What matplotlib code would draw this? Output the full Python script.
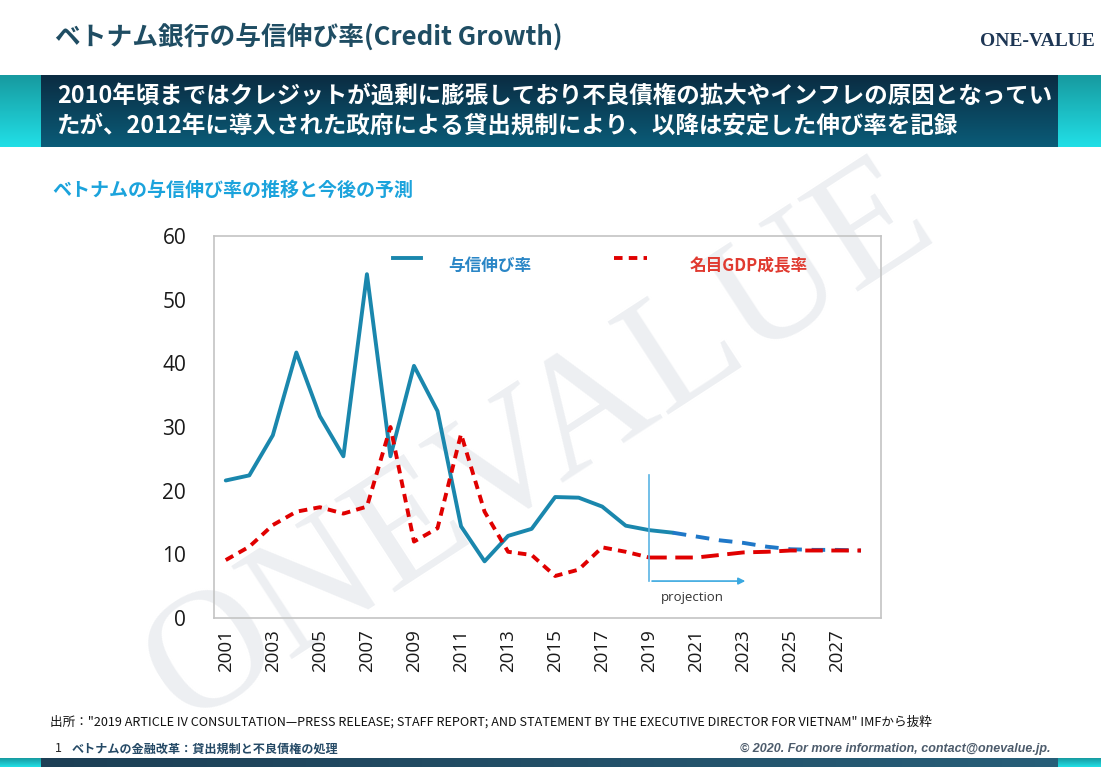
import numpy as np
import matplotlib
matplotlib.use("Agg")
import matplotlib.pyplot as plt
from matplotlib.colors import LinearSegmentedColormap

plt.rcParams['font.family'] = ['Noto Sans CJK JP', 'DejaVu Sans']

# data (%)
years = list(range(2001, 2029))
credit_growth = [21.6, 22.4, 28.7, 41.7, 31.7, 25.4, 54.0, 25.4, 39.6, 32.5,
                 14.4, 8.9, 12.9, 14.0, 19.0, 18.9, 17.5, 14.5, 13.8, 13.4,
                 12.8, 12.2, 11.8, 11.2, 10.8, 10.7, 10.7, 10.6]
gdp_growth = [9.1, 11.2, 14.6, 16.7, 17.4, 16.4, 17.5, 30.0, 12.0, 14.1,
              28.9, 16.7, 10.4, 9.9, 6.6, 7.6, 11.1, 10.4, 9.5, 9.5,
              9.5, 9.9, 10.3, 10.4, 10.6, 10.6, 10.6, 10.6]
proj_start = 2020  # actual data up to here, then projection
xtick_years = list(range(2001, 2028, 2))
ytick_vals = [0, 10, 20, 30, 40, 50, 60]

label_credit = '与信伸び率'
label_gdp = '名目GDP成長率'

W, H = 1101, 767
fig = plt.figure(figsize=(W / 100, H / 100), dpi=100)


def fx(px):
    return px / W


def fy(py):
    return 1 - py / H


# ---- header / banner ----
title = 'ベトナム銀行の与信伸び率(Credit Growth)'
fig.text(fx(55), fy(37), title, fontsize=18.5, color='#1f4d63', va='center', ha='left',
         fontweight='bold')
fig.text(fx(1095), fy(42), 'ONE-VALUE', fontsize=14, color='#1d3654', va='center', ha='right',
         family='Liberation Serif', fontweight='bold')

dark = LinearSegmentedColormap.from_list('dark', ['#0a2c42', '#0b5c78'])
cyan = LinearSegmentedColormap.from_list('cyan', ['#179aa0', '#21dfe6'])
grad = np.linspace(0, 1, 64).reshape(-1, 1)

ban = fig.add_axes([fx(41), fy(147), fx(1058 - 41), (147 - 75) / H])
ban.imshow(grad, aspect='auto', cmap=dark, extent=[0, 1, 0, 1])
ban.axis('off')
for x0, x1 in [(0, 41), (1058, 1101)]:
    side = fig.add_axes([fx(x0), fy(147), fx(x1 - x0), (147 - 75) / H])
    side.imshow(grad, aspect='auto', cmap=cyan, extent=[0, 1, 0, 1])
    side.axis('off')

line1 = '2010年頃まではクレジットが過剰に膨張しており不良債権の拡大やインフレの原因となってい'
line2 = 'たが、2012年に導入された政府による貸出規制により、以降は安定した伸び率を記録'
fig.text(fx(57), fy(96), line1, fontsize=16.9, color='white', fontweight='bold', va='center')
fig.text(fx(57), fy(127), line2, fontsize=16.9, color='white', fontweight='bold', va='center')

fig.text(fx(52), fy(190), 'ベトナムの与信伸び率の推移と今後の予測', fontsize=13.7,
         color='#1ba3dc', fontweight='bold', va='center')

# watermark
fig.text(fx(540), fy(445), 'ONEVALUE', fontsize=122, color='#edeff2', rotation=33,
         ha='center', va='center', family='Liberation Serif', zorder=-5)

# ---- chart ----
ax = fig.add_axes([fx(214), fy(618), fx(881 - 214), (618 - 236) / H])
ax.patch.set_alpha(0)
ax.set_xlim(2000.5, 2028.85)
ax.set_ylim(0, 60)

i0 = years.index(proj_start)
ax.plot(years[:i0 + 1], credit_growth[:i0 + 1], color='#1a87ad', lw=2.8, solid_capstyle='round')
ax.plot(years[i0:], credit_growth[i0:], color='#1f78c8', lw=2.8, dashes=(3.5, 2.5))
ax.plot(years[:19], gdp_growth[:19], color='#e00000', lw=2.8, dashes=(2.2, 1.6))
ax.plot(years[18:], gdp_growth[18:], color='#e00000', lw=2.8, dashes=(4.5, 2.2))

# legend drawn as in the original slide
ax.plot([2008.1, 2009.3], [56.5, 56.5], color='#1a87ad', lw=2.8)
ax.text(2010.45, 55.3, label_credit, color='#2a86c6', fontsize=12, fontweight='bold', va='center')
ax.plot([2017.5, 2018.9], [56.5, 56.5], color='#e00000', lw=2.8, dashes=(2.2, 1.6))
ax.text(2020.7, 55.3, label_gdp, color='#e03a30', fontsize=12, fontweight='bold', va='center')

# projection marker
ax.plot([2019.0, 2019.0], [22.4, 5.8], color='#5ab4e4', lw=1.2)
ax.annotate('', xy=(2023.2, 5.8), xytext=(2019.0, 5.8),
            arrowprops=dict(arrowstyle='-|>', color='#3aa8e0', lw=1.2, mutation_scale=10))
ax.text(2019.5, 3.2, 'projection', fontsize=9.5, color='#333333', family='Open Sans', va='center')

ax.set_yticks(ytick_vals)
ax.set_xticks(xtick_years)
ax.set_xticklabels([str(y) for y in xtick_years], rotation=90, family='Open Sans', fontsize=13.5)
ax.set_yticklabels([str(v) for v in ytick_vals], family='Open Sans', fontsize=15)
ax.tick_params(axis='both', length=0, colors='#1a1a1a')
ax.tick_params(axis='y', pad=20)
ax.tick_params(axis='x', pad=8)
for s in ax.spines.values():
    s.set_color('#c4c4c4')
    s.set_linewidth(1.2)

# ---- footer ----
src = '出所："2019 ARTICLE IV CONSULTATION—PRESS RELEASE; STAFF REPORT; AND STATEMENT BY THE EXECUTIVE DIRECTOR FOR VIETNAM" IMFから抜粋'
fig.text(fx(50), fy(722), src, fontsize=9.1, color='#111111', va='center')
fig.text(fx(55), fy(749), '1', fontsize=9, color='#222222', va='center')
fig.text(fx(72), fy(749), 'ベトナムの金融改革：貸出規制と不良債権の処理', fontsize=8.7,
         color='#254a66', fontweight='bold', va='center')
fig.text(fx(1050), fy(749), '© 2020. For more information, contact@onevalue.jp.', fontsize=9,
         color='#4d5c6c', style='italic', fontweight='bold', ha='right', va='center',
         family='Liberation Sans')

bot = fig.add_axes([fx(41), 0, fx(1101 - 41), 9 / H])
bot.imshow(np.linspace(0, 1, 64).reshape(1, -1), aspect='auto',
           cmap=LinearSegmentedColormap.from_list('b', ['#1d3f55', '#28607a']), extent=[0, 1, 0, 1])
bot.axis('off')
botl = fig.add_axes([0, 0, fx(41), 9 / H])
botl.imshow(grad, aspect='auto', cmap=cyan, extent=[0, 1, 0, 1])
botl.axis('off')
botr = fig.add_axes([fx(1058), 0, fx(43), 9 / H])
botr.imshow(grad, aspect='auto', cmap=cyan, extent=[0, 1, 0, 1])
botr.axis('off')

fig.savefig('out.png', dpi=100)
